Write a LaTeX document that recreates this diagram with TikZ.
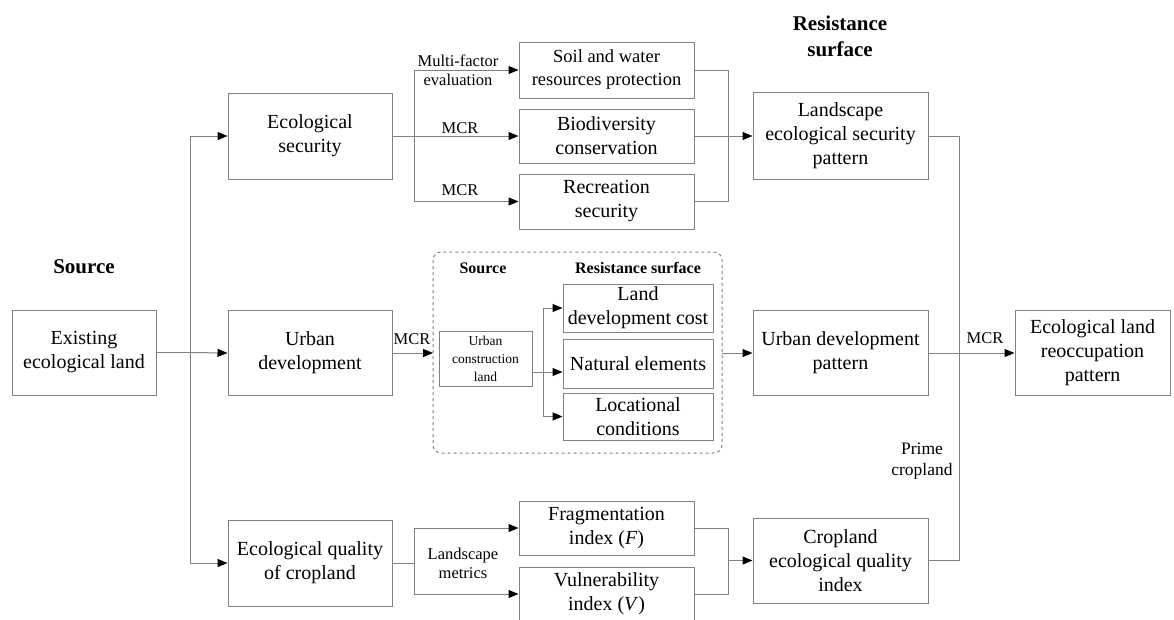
\documentclass[tikz,border=0pt]{standalone}
\usepackage{fontspec}
\setmainfont{Liberation Serif}
\usetikzlibrary{arrows.meta}
\definecolor{ln}{HTML}{808080}
\tikzset{
  box/.style={draw=ln, line width=1pt, align=center, inner sep=2pt, font=\fontsize{20}{24}\selectfont},
  sbox/.style={draw=ln, line width=1pt, align=center, inner sep=2pt, font=\fontsize{13.5}{18}\selectfont},
  conn/.style={draw=ln, line width=1pt},
  arr/.style={conn, -{Triangle[length=10pt,width=8pt,color=black]}},
  lab/.style={align=center, inner sep=0pt, font=\fontsize{16.5}{19}\selectfont},
  head/.style={align=center, inner sep=0pt, font=\fontsize{21}{26}\selectfont\bfseries},
  shead/.style={align=center, inner sep=0pt, font=\fontsize{16}{19}\selectfont\bfseries},
}
\begin{document}
\begin{tikzpicture}[x=1pt,y=-1pt]
\clip (0,0) rectangle (1174,619);
\useasboundingbox (0,0) rectangle (1174,619);
% dashed group
\draw[ln, dashed, line width=1pt, rounded corners=8pt] (433,252) rectangle (722,453);
\coordinate (dw) at (433,353);
\coordinate (de) at (722,353);
% nodes
\node[box, minimum width=144pt, minimum height=85pt] (exist) at (84,352.5) {Existing\\ecological land};
\node[box, minimum width=164pt, minimum height=86pt] (ecosec) at (310,136) {Ecological\\security};
\node[box, minimum width=164pt, minimum height=85pt] (urbdev) at (310,353) {Urban\\development};
\node[box, minimum width=164pt, minimum height=86pt] (ecoqual) at (310,563) {Ecological quality\\of cropland};
\node[box, minimum width=175pt, minimum height=56pt, font=\fontsize{18.5}{23}\selectfont] (soil) at (606.5,70) {Soil and water\\resources protection};
\node[box, minimum width=175pt, minimum height=54pt] (bio) at (606.5,136) {Biodiversity\\conservation};
\node[box, minimum width=175pt, minimum height=55pt] (rec) at (606.5,201.5) {Recreation\\security};
\node[box, minimum width=175pt, minimum height=87pt] (lesp) at (840.5,136) {Landscape\\ecological security\\pattern};
\node[sbox, minimum width=93pt, minimum height=55pt] (ucl) at (485.5,358.5) {Urban\\construction\\land};
\node[box, minimum width=150pt, minimum height=48pt] (ldc) at (638,308) {Land\\development cost};
\node[box, minimum width=150pt, minimum height=49pt] (nat) at (638,363.5) {Natural elements};
\node[box, minimum width=150pt, minimum height=47pt] (loc) at (638,416.5) {Locational\\conditions};
\node[box, minimum width=175pt, minimum height=85pt] (udp) at (840.5,353) {Urban development\\pattern};
\node[box, minimum width=155pt, minimum height=85pt] (elrp) at (1092.5,353) {Ecological land\\reoccupation\\pattern};
\node[box, minimum width=175pt, minimum height=54pt] (frag) at (606.5,528) {Fragmentation\\index (\textit{F})};
\node[box, minimum width=175pt, minimum height=54pt] (vul) at (606.5,594) {Vulnerability\\index (\textit{V})};
\node[box, minimum width=175pt, minimum height=85pt] (ceqi) at (840.5,560.5) {Cropland\\ecological quality\\index};
% headings and labels
\node[head] (hsrc) at (84,267) {Source};
\node[head] (hres) at (840,36) {Resistance\\surface};
\node[shead] (dsrc) at (483,268) {Source};
\node[shead] (dres) at (638,268) {Resistance surface};
\node[lab] (lmf) at (458,70) {Multi-factor\\evaluation};
\node[lab] (lm1) at (460,128) {MCR};
\node[lab] (lm2) at (460,190) {MCR};
\node[lab] (lm3) at (412,339) {MCR};
\node[lab] (lm4) at (985,338) {MCR};
\node[lab, font=\fontsize{17.5}{21}\selectfont] (lpc) at (922,461) {Prime\\cropland};
\node[lab] (llm) at (463,563) {Landscape\\metrics};
% trunk from existing land
\coordinate (trunk) at (190,352.5);
\draw[conn] (exist.east) -- (trunk);
\draw[arr] (trunk) |- (ecosec.west);
\draw[arr] (trunk) -- (urbdev.west);
\draw[arr] (trunk) |- (ecoqual.west);
% ecological security branch
\coordinate (b1) at (414,136);
\draw[conn] (ecosec.east) -- (b1);
\draw[arr] (b1) |- (soil.west);
\draw[arr] (b1) -- (bio.west);
\draw[arr] (b1) |- (rec.west);
\coordinate (m1) at (728,136);
\draw[conn] (soil.east) -| (m1);
\draw[conn] (rec.east) -| (m1);
\draw[conn] (bio.east) -- (m1);
\draw[arr] (m1) -- (lesp.west);
% urban branch
\draw[arr] (urbdev.east) -- (dw);
\coordinate (b2) at (543,372);
\draw[conn] (ucl.east |- b2) -- (b2);
\draw[arr] (b2) |- (ldc.west);
\draw[arr] (b2) -- (nat.west |- b2);
\draw[arr] (b2) |- (loc.west);
\draw[arr] (de) -- (udp.west);
\draw[arr] (udp.east) -- (elrp.west);
% right vertical
\coordinate (v1) at (959,136);
\coordinate (v2) at (959,560.5);
\draw[conn] (lesp.east) -- (v1) -- (v2) -- (ceqi.east);
% cropland branch
\coordinate (b3) at (414,563);
\draw[conn] (ecoqual.east) -- (b3);
\draw[arr] (b3) |- (frag.west);
\draw[arr] (b3) |- (vul.west);
\coordinate (m3) at (728,560.5);
\draw[conn] (frag.east) -| (m3);
\draw[conn] (vul.east) -| (m3);
\draw[arr] (m3) -- (ceqi.west);
\end{tikzpicture}
\end{document}
